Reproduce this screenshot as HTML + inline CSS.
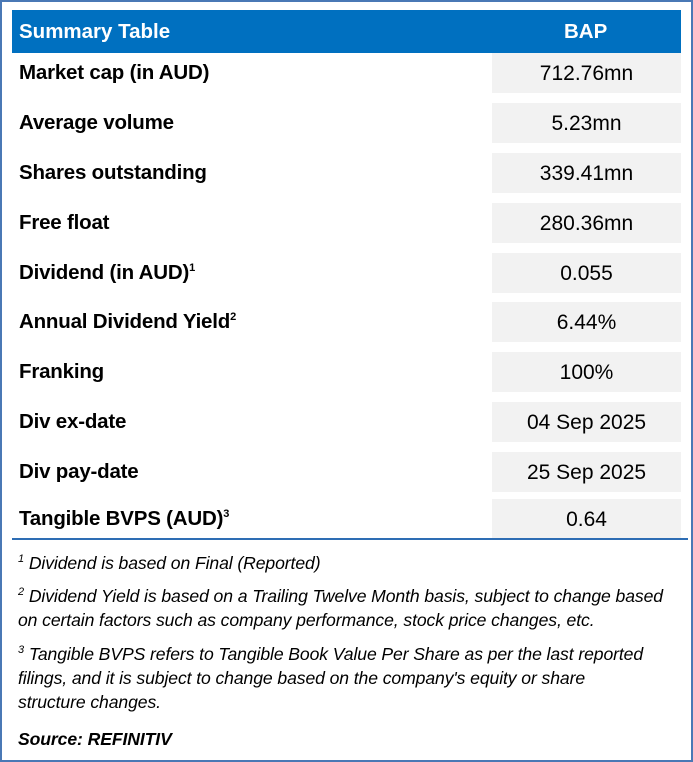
<!DOCTYPE html>
<html><head><meta charset="utf-8"><style>
body{margin:0;width:693px;height:762px;background:#fff;position:relative;overflow:hidden;font-family:"Liberation Sans",sans-serif}
#frame{position:absolute;left:0;top:0;width:689px;height:758px;border:2px solid #4a78b5}
#hdr{position:absolute;left:12px;top:10px;width:669px;height:43px;background:#0070c0;color:#fff;font-weight:bold;font-size:20.5px}
#hdr span{position:absolute;top:10px}
.lab{position:absolute;left:19px;font-weight:bold;font-size:20.5px;color:#000;white-space:nowrap;letter-spacing:-0.2px}
.val{position:absolute;left:492px;width:189px;height:40px;background:#f2f2f2;font-size:21px;color:#000;text-align:center;line-height:42px}
sup{font-size:11px}
#line{position:absolute;left:12px;top:538px;width:676px;height:2px;background:#2e6db4}
.fn{position:absolute;left:18px;font-style:italic;font-size:17.6px;color:#000;white-space:nowrap;letter-spacing:-0.1px}
</style></head><body>
<div id="frame"></div>
<div id="hdr"><span style="left:7px">Summary Table</span><span style="left:552px">BAP</span></div>
<div id="rows"></div>
<div id="line"></div>
<div class="fn" style="top:553px"><sup>1</sup> Dividend is based on Final (Reported)</div>
<div class="fn" style="top:586px"><sup>2</sup> Dividend Yield is based on a Trailing Twelve Month basis, subject to change based</div>
<div class="fn" style="top:610px">on certain factors such as company performance, stock price changes, etc.</div>
<div class="fn" style="top:644px"><sup>3</sup> Tangible BVPS refers to Tangible Book Value Per Share as per the last reported</div>
<div class="fn" style="top:668px">filings, and it is subject to change based on the company's equity or share</div>
<div class="fn" style="top:692px">structure changes.</div>
<div class="fn" style="top:729px;font-weight:bold">Source: REFINITIV</div>
<script>
const labels=["Market cap (in AUD)","Average volume","Shares outstanding","Free float","Dividend (in AUD)<sup>1</sup>","Annual Dividend Yield<sup>2</sup>","Franking","Div ex-date","Div pay-date","Tangible BVPS (AUD)<sup>3</sup>"];
const values=["712.76mn","5.23mn","339.41mn","280.36mn","0.055","6.44%","100%","04 Sep 2025","25 Sep 2025","0.64"];
const tops=[53,103,153,203,253,302,352,402,452,499];
const rows=document.getElementById('rows');
labels.forEach((l,i)=>{
 const a=document.createElement('div');a.className='lab';a.style.top=(tops[i]+8)+'px';a.innerHTML=l;
 
 
 const v=document.createElement('div');v.className='val';v.style.top=tops[i]+'px';v.textContent=values[i];
 
 
 rows.appendChild(a);rows.appendChild(v);
});
</script>
</body></html>
